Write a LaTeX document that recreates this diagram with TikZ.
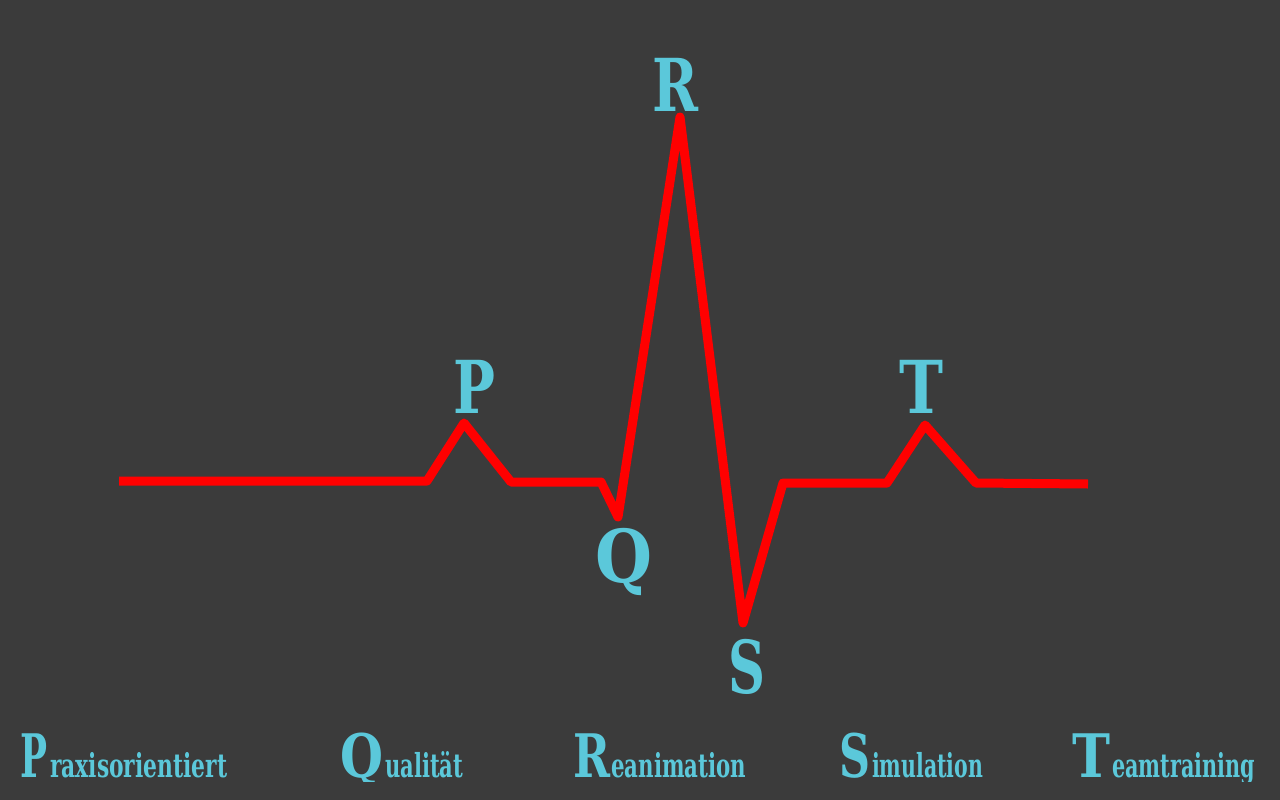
\documentclass[tikz,border=0pt]{standalone}
\usepackage{fontspec}
\setmainfont{DejaVu Serif}
\usepackage{graphicx}
\definecolor{bg}{HTML}{3B3B3B}
\definecolor{ecgcyan}{HTML}{5BC8DA}
\definecolor{ecgred}{HTML}{FF0000}
\newcommand{\fitw}[2]{\resizebox{#1}{\height}{#2}}
\begin{document}
\begin{tikzpicture}[x=1pt,y=-1pt,
  wave/.style={draw=ecgred,line width=9pt,line join=round,line cap=butt},
  peak/.style={text=ecgcyan,font=\bfseries\fontsize{73}{80}\selectfont,inner sep=0pt,anchor=base west},
  biglet/.style={text=ecgcyan,font=\bfseries\fontsize{60}{66}\selectfont,inner sep=0pt,anchor=base west},
  smalltxt/.style={text=ecgcyan,font=\bfseries\fontsize{33}{36}\selectfont,inner sep=0pt,anchor=base west}]
\fill[bg] (0,0) rectangle (1280,800);
\useasboundingbox (0,0) rectangle (1280,800);

% ECG wave
\coordinate (a0) at (119,481);
\coordinate (a1) at (427,481);
\coordinate (p)  at (464,423);
\coordinate (a2) at (511,482);
\coordinate (a3) at (601,482);
\coordinate (q)  at (618,517);
\coordinate (r)  at (680,117);
\coordinate (s)  at (743,623);
\coordinate (a4) at (783,483);
\coordinate (a5) at (887,483);
\coordinate (t)  at (925,425);
\coordinate (a6) at (976,483);
\coordinate (a7) at (1088,484);
\draw[wave] (a0) -- (a1) -- (p) -- (a2) -- (a3) -- (q) -- (r) -- (s) -- (a4) -- (a5) -- (t) -- (a6) -- (a7);

% peak labels
\node[peak] (lR) at (652,111) {\fitw{46pt}{R}};
\node[peak] (lP) at (453,413) {\fitw{42pt}{P}};
\node[peak] (lQ) at (595,582) {\fitw{57pt}{Q}};
\node[peak] (lS) at (728,693) {\fitw{37pt}{S}};
\node[peak] (lT) at (899,413) {\fitw{44pt}{T}};

% bottom acronym
\begin{scope}
\clip (0,0) rectangle (1280,781);
\node[biglet] (bP) at (20,777) {\fitw{27pt}{P}};
\node[smalltxt] (sP) at (50,777) {\fitw{177pt}{raxisorientiert}};
\node[biglet] (bQ) at (340,777) {\fitw{43pt}{Q}};
\node[smalltxt] (sQ) at (385,777) {\fitw{78pt}{ualität}};
\node[biglet] (bR) at (573,777) {\fitw{37pt}{R}};
\node[smalltxt] (sR) at (611,777) {\fitw{135pt}{eanimation}};
\node[biglet] (bS) at (839,777) {\fitw{31pt}{S}};
\node[smalltxt] (sS) at (872,777) {\fitw{111pt}{imulation}};
\node[biglet] (bT) at (1072,777) {\fitw{38pt}{T}};
\node[smalltxt] (sT) at (1112,777) {\fitw{143pt}{eamtraining}};
\end{scope}
\end{tikzpicture}
\end{document}
